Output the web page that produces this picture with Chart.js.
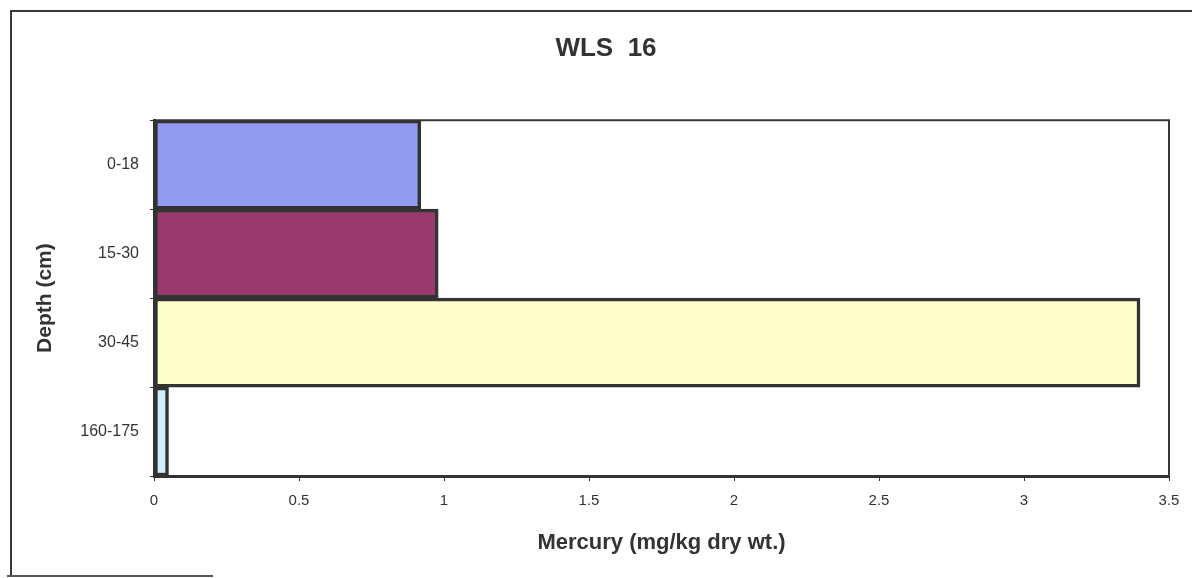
<!DOCTYPE html>
<html>
<head>
<meta charset="utf-8">
<title>WLS 16</title>
<script src="https://cdn.jsdelivr.net/npm/chart.js@4.4.1/dist/chart.umd.min.js"></script>
<style>
  html, body { margin: 0; padding: 0; background: #fff; overflow: hidden; }
  #wrap { position: relative; width: 1192px; height: 578px; }
  canvas { position: absolute; left: 0; top: 0; }
  .frame-top { position: absolute; left: 11px; top: 10px; width: 1190px; height: 0; border-top: 2px solid #3a3a3a; }
  .frame-left { position: absolute; left: 10px; top: 10px; width: 0; height: 567px; border-left: 2px solid #3a3a3a; }
  .frame-bottom { position: absolute; left: 7px; top: 575px; width: 206px; height: 0; border-top: 2px solid #555; }
</style>
</head>
<body>
<div id="wrap">
  <div class="frame-top"></div>
  <div class="frame-left"></div>
  <div class="frame-bottom"></div>
  <canvas id="c" width="1192" height="578"></canvas>
</div>
<script>
// Sediment depth intervals and mercury concentrations
const depths = ['0-18', '15-30', '30-45', '160-175'];
const mercury = [0.92, 0.98, 3.40, 0.05];
const barColors = ['#929af0', '#9a3a6c', '#ffffcc', '#ccf0fc'];
const xTicks = [0, 0.5, 1, 1.5, 2, 2.5, 3, 3.5];

const FONT = '"Liberation Sans", Arial, sans-serif';
const INK = '#333333';

// Thin box around the plotting area (top and right edges)
const plotFrame = {
  id: 'plotFrame',
  beforeDatasetsDraw(chart) {
    const { ctx, chartArea: a } = chart;
    ctx.save();
    ctx.strokeStyle = '#3a3a3a';
    ctx.lineWidth = 2;
    ctx.beginPath();
    ctx.moveTo(a.left, a.top);
    ctx.lineTo(a.right, a.top);
    ctx.lineTo(a.right, a.bottom);
    ctx.stroke();
    ctx.restore();
  }
};

new Chart(document.getElementById('c'), {
  type: 'bar',
  data: {
    labels: depths,
    datasets: [{
      data: mercury,
      backgroundColor: barColors,
      borderColor: INK,
      borderWidth: 3.5,
      borderSkipped: false,
      categoryPercentage: 1,
      barPercentage: 1
    }]
  },
  options: {
    indexAxis: 'y',
    responsive: false,
    animation: false,
    layout: { padding: { left: 43, right: 23, top: 0, bottom: 0 } },
    plugins: {
      legend: { display: false },
      tooltip: { enabled: false },
      title: {
        display: true,
        text: 'WLS  16',
        color: INK,
        font: { family: FONT, size: 26, weight: 'bold', lineHeight: 1.2 },
        padding: { top: 33, bottom: 56 }
      }
    },
    scales: {
      x: {
        type: 'linear',
        min: 0,
        max: 3.5,
        afterBuildTicks(scale) { scale.ticks = xTicks.map(v => ({ value: v })); },
        afterFit(scale) { scale.height = 102; },
        grid: { display: true, drawOnChartArea: false, drawTicks: true, tickLength: 5, color: INK, lineWidth: 1 },
        border: { display: true, color: INK, width: 3 },
        ticks: {
          color: INK,
          padding: 11,
          font: { family: FONT, size: 15 },
          callback: v => String(v)
        },
        title: {
          display: true,
          text: 'Mercury (mg/kg dry wt.)',
          color: INK,
          font: { family: FONT, size: 22, weight: 'bold', lineHeight: 1.2 },
          padding: { top: 0, bottom: 22 }
        }
      },
      y: {
        type: 'category',
        afterFit(scale) { scale.width = 111; },
        grid: { display: true, offset: true, drawOnChartArea: false, drawTicks: true, tickLength: 4, color: INK, lineWidth: 1 },
        border: { display: true, color: INK, width: 3 },
        ticks: {
          color: INK,
          padding: 11,
          font: { family: FONT, size: 16 }
        },
        title: {
          display: true,
          text: 'Depth (cm)',
          color: INK,
          font: { family: FONT, size: 21, weight: 'bold', lineHeight: 1.2 },
          padding: { top: -10, bottom: 0 }
        }
      }
    }
  },
  plugins: [plotFrame]
});
</script>
</body>
</html>
